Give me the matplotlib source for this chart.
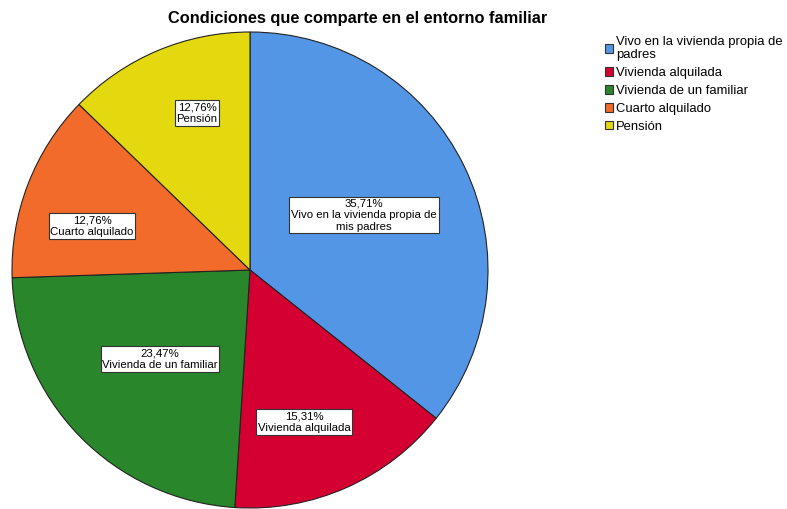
import matplotlib
matplotlib.use("Agg")
import matplotlib.pyplot as plt
import numpy as np

plt.rcParams['font.family'] = ['Liberation Sans', 'DejaVu Sans']

categories = ["Vivo en la vivienda propia de\npadres", "Vivienda alquilada",
              "Vivienda de un familiar", "Cuarto alquilado", "Pensión"]
inner_labels = ["Vivo en la vivienda propia de\nmis padres", "Vivienda alquilada",
                "Vivienda de un familiar", "Cuarto alquilado", "Pensión"]
values = [35.71, 15.31, 23.47, 12.76, 12.76]
colors = ["#5496E6", "#D50032", "#2A862B", "#F26B2B", "#E4D80E"]
label_px = [(364, 215), (304, 422), (160, 359), (92, 226), (197, 113)]

W, H = 787, 509
fig = plt.figure(figsize=(W / 100, H / 100), dpi=100)
cx, cy, r = 250, 270, 238
ax = fig.add_axes([(cx - r) / W, (H - cy - r) / H, 2 * r / W, 2 * r / H])
wedges, _ = ax.pie(values, colors=colors, startangle=90, counterclock=False,
                   radius=1, wedgeprops=dict(edgecolor="#222222", linewidth=0.8))
ax.set_xlim(-1, 1)
ax.set_ylim(-1, 1)
ax.set_aspect('equal')
ax.axis('off')

for v, lab, (px, py) in zip(values, inner_labels, label_px):
    x = (px - cx) / r
    y = (cy - py) / r
    txt = f"{v:.2f}%".replace('.', ',') + "\n" + lab
    ax.text(x, y, txt, ha='center', va='center', fontsize=8.2, linespacing=1.2,
            multialignment='center',
            bbox=dict(boxstyle='square,pad=0.15', facecolor='white', edgecolor='#333333', linewidth=0.8))

fig.text(358 / W, 1 - 18 / H, "Condiciones que comparte en el entorno familiar",
         ha='center', va='center', fontsize=11.8, fontweight='bold')

leg = fig.legend(wedges, categories, loc='upper left', bbox_to_anchor=(605 / W, 1 - 36 / H),
                 frameon=False, fontsize=9.4, handlelength=0.6, handleheight=0.6,
                 handletextpad=0.25, labelspacing=0.45, borderaxespad=0, borderpad=0)
for h in leg.legend_handles:
    h.set_linewidth(0.8)
    h.set_edgecolor('#333333')
for t in leg.get_texts():
    t.set_linespacing(1.15)

fig.savefig("out.png", dpi=100)
